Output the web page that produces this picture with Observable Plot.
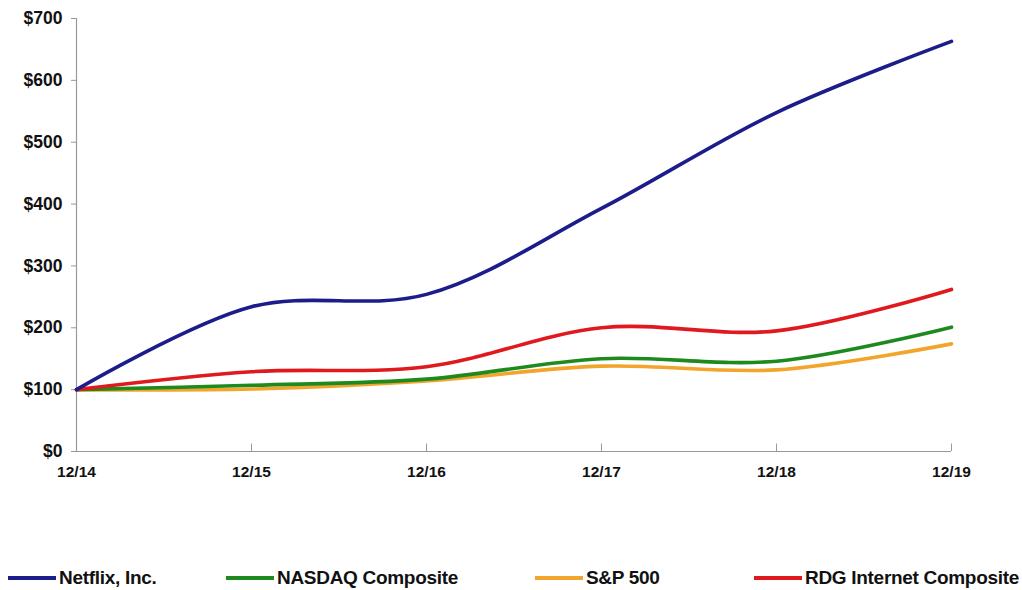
<!DOCTYPE html>
<html>
<head>
<meta charset="utf-8">
<script src="https://cdn.jsdelivr.net/npm/d3@7"></script>
<script src="https://cdn.jsdelivr.net/npm/@observablehq/plot@0.6"></script>
<style>
  html, body { margin: 0; padding: 0; background: #fff; }
  #chart { width: 1022px; height: 500px; }
  #legend { position: relative; width: 1022px; height: 90px; font-family: "Liberation Sans", Arial, sans-serif; font-weight: bold; font-size: 19px; letter-spacing: -0.3px; color: #111; }
  .item { position: absolute; top: 67px; display: flex; align-items: center; white-space: nowrap; }
  .sw { width: 48px; height: 4px; margin-right: 3px; }
</style>
</head>
<body>
<div id="chart"></div>
<div id="legend"></div>
<script>
const periods = ["12/14", "12/15", "12/16", "12/17", "12/18", "12/19"];
const seriesNames = ["Netflix, Inc.", "NASDAQ Composite", "S&P 500", "RDG Internet Composite"];
const seriesColors = ["#1c1c8a", "#1e8a1e", "#f2a52c", "#e0191f"];
const netflix = [100, 234, 254, 393, 548, 663];
const nasdaq = [100, 107, 117, 150, 146, 201];
const sp500 = [100, 101, 114, 138, 132, 174];
const rdg = [100, 129, 137, 200, 195, 262];
const yTicks = [0, 100, 200, 300, 400, 500, 600, 700];
const legendX = [8, 226, 535, 754];

const valuesBySeries = [netflix, nasdaq, sp500, rdg];
const rows = [];
seriesNames.forEach((s, i) => periods.forEach((p, j) => rows.push({series: s, period: p, value: valuesBySeries[i][j]})));
const drawOrder = ["S&P 500", "NASDAQ Composite", "RDG Internet Composite", "Netflix, Inc."];

const font = `"Liberation Sans", Arial, sans-serif`;
const chart = Plot.plot({
  width: 1022,
  height: 500,
  marginLeft: 76,
  marginRight: 71,
  marginTop: 18,
  marginBottom: 49,
  style: {fontFamily: font, fontSize: "15px", fontWeight: "bold", color: "#111", background: "#fff"},
  x: {type: "point", domain: periods, padding: 0},
  y: {domain: [0, 700]},
  color: {domain: seriesNames, range: seriesColors},
  marks: [
    Plot.ruleY([0], {stroke: "#999", strokeWidth: 1.2}),
    Plot.ruleX([periods[0]], {stroke: "#999", strokeWidth: 1.2}),
    Plot.ruleX(periods.slice(1), {x: d => d, y1: 0, y2: 12, stroke: "#999", strokeWidth: 1}),
    Plot.axisY({ticks: yTicks, tickFormat: d => "$" + d, tickSize: 5, tickPadding: 9, stroke: "#999", label: null, fontWeight: "bold", fontSize: 17.5}),
    Plot.axisX({tickSize: 0, tickPadding: 14, label: null, fontWeight: "bold", fontSize: 15.5}),
    ...drawOrder.map(s => Plot.line(rows.filter(r => r.series === s), {
      x: "period", y: "value", stroke: "series", strokeWidth: 3.6, curve: "catmull-rom"
    }))
  ]
});
document.getElementById("chart").appendChild(chart);

const legend = document.getElementById("legend");
seriesNames.forEach((s, i) => {
  const it = document.createElement("div");
  it.className = "item";
  it.style.left = legendX[i] + "px";
  const sw = document.createElement("span");
  sw.className = "sw";
  sw.style.background = seriesColors[i];
  const tx = document.createElement("span");
  tx.textContent = s;
  it.appendChild(sw); it.appendChild(tx);
  legend.appendChild(it);
});
</script>
</body>
</html>
